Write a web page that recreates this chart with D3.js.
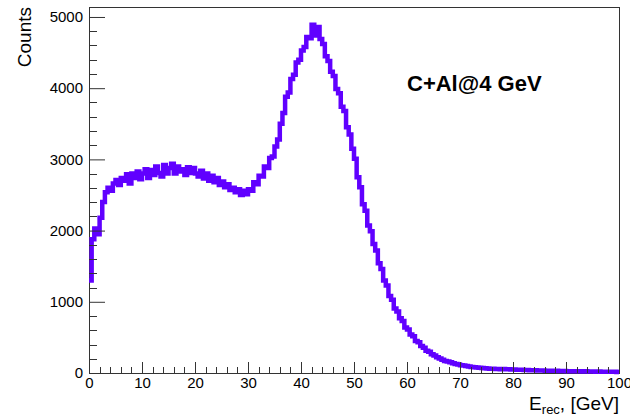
<!DOCTYPE html>
<html lang="en">
<head>
<meta charset="UTF-8">
<title>C+Al@4 GeV</title>
<script src="https://cdn.jsdelivr.net/npm/d3@7/dist/d3.min.js"></script>
<style>
  body { margin: 0; background: #fff; }
  svg { display: block; font-family: "Liberation Sans", Arial, sans-serif; }
</style>
</head>
<body>
<div id="chart"></div>
<script>
    // histogram: 200 bins of 0.5 GeV from 0 to 100
    const xRange = [0, 100]
    const binWidth = 0.5
    const counts = [
        1300, 1880, 2030, 1950, 2180, 2400, 2540, 2600, 2560, 2660,
        2710, 2640, 2740, 2700, 2790, 2660, 2800, 2740, 2830, 2720,
        2800, 2860, 2740, 2850, 2780, 2900, 2810, 2760, 2920, 2800,
        2880, 2940, 2800, 2900, 2830, 2860, 2780, 2890, 2810, 2880,
        2800, 2760, 2840, 2730, 2800, 2700, 2770, 2680, 2740, 2640,
        2690, 2610, 2650, 2570, 2600, 2540, 2580, 2500, 2560, 2510,
        2580, 2560, 2680, 2650, 2770, 2760, 2900, 2880, 3020, 3040,
        3180, 3280, 3500, 3650, 3880, 3940, 4130, 4190, 4360, 4400,
        4530, 4580, 4720, 4700, 4890, 4740, 4860, 4690, 4620, 4450,
        4380, 4230, 4170, 3990, 3930, 3740, 3680, 3450, 3350, 3150,
        3010, 2750, 2610, 2370, 2280, 2070, 1990, 1810, 1720, 1540,
        1460, 1300, 1230, 1080, 1030, 905, 865, 770, 730, 640,
        610, 540, 515, 450, 432, 378, 356, 314, 300, 265,
        245, 222, 205, 185, 170, 160, 150, 138, 128, 118,
        110, 104, 98, 92, 86, 82, 77, 73, 70, 66,
        63, 60, 61, 57, 56, 54, 55, 51, 52, 49,
        48, 47, 44, 45, 42, 41, 40, 38, 39, 36,
        35, 34, 33, 33, 31, 30, 31, 28, 27, 28,
        26, 25, 26, 24, 23, 24, 22, 23, 21, 21,
        20, 19, 20, 18, 18, 17, 18, 16, 16, 15
    ]
    const xTicks = [0, 10, 20, 30, 40, 50, 60, 70, 80, 90, 100]
    const yTicks = [0, 1000, 2000, 3000, 4000, 5000]
    const yMax = 5140
    const label = 'C+Al@4 GeV'

    const width = 630
    const height = 419
    const frame = { left: 89, right: 619, top: 7, bottom: 373 }
    const color = '#6000ff'

    const svg = d3.select('#chart')
        .append('svg')
        .attr('width', width)
        .attr('height', height)

    const xScale = d3.scaleLinear().domain(xRange).range([frame.left, frame.right])
    const yScale = d3.scaleLinear().domain([0, yMax]).range([frame.bottom, frame.top])

    // frame
    svg.append('rect')
        .attr('x', frame.left + 0.5)
        .attr('y', frame.top + 0.5)
        .attr('width', frame.right - frame.left)
        .attr('height', frame.bottom - frame.top)
        .attr('fill', 'none')
        .attr('stroke', '#333')
        .attr('stroke-width', 1)

    // histogram outline
    const steps = []
    counts.forEach((c, i) => {
        const lo = xRange[0] + i * binWidth
        steps.push([lo, c], [lo + binWidth, c])
    })
    const line = d3.line()
        .x(d => xScale(d[0]))
        .y(d => yScale(d[1]))
    svg.append('path')
        .datum(steps)
        .attr('d', line)
        .attr('fill', 'none')
        .attr('stroke', color)
        .attr('stroke-width', 4.5)

    // x axis
    const xAxis = d3.axisBottom(xScale)
        .tickValues(xTicks)
        .tickSizeInner(-11)
        .tickSizeOuter(0)
        .tickPadding(4)
        .tickFormat(d3.format('d'))
    const gx = svg.append('g')
        .attr('transform', `translate(0, ${frame.bottom})`)
        .call(xAxis)
    gx.select('.domain').remove()
    gx.selectAll('.tick line').attr('stroke', '#333')
    gx.selectAll('.tick text').attr('font-size', 15).attr('fill', '#000')
        .attr('font-family', '"Liberation Sans", Arial, sans-serif')

    const xMinor = d3.range(0, 101, 2).filter(v => v % 10 !== 0)
    svg.append('g').selectAll('line')
        .data(xMinor)
        .join('line')
        .attr('x1', d => Math.round(xScale(d)) + 0.5)
        .attr('x2', d => Math.round(xScale(d)) + 0.5)
        .attr('y1', frame.bottom)
        .attr('y2', frame.bottom - 6)
        .attr('stroke', '#333')

    // y axis
    const yAxis = d3.axisLeft(yScale)
        .tickValues(yTicks)
        .tickSizeInner(-16)
        .tickSizeOuter(0)
        .tickPadding(6)
        .tickFormat(d3.format('d'))
    const gy = svg.append('g')
        .attr('transform', `translate(${frame.left}, 0)`)
        .call(yAxis)
    gy.select('.domain').remove()
    gy.selectAll('.tick line').attr('stroke', '#333')
    gy.selectAll('.tick text').attr('font-size', 15).attr('fill', '#000')
        .attr('font-family', '"Liberation Sans", Arial, sans-serif')

    const yMinor = d3.range(0, yMax, 200).filter(v => v % 1000 !== 0)
    svg.append('g').selectAll('line')
        .data(yMinor)
        .join('line')
        .attr('x1', frame.left)
        .attr('x2', frame.left + 8)
        .attr('y1', d => Math.round(yScale(d)) + 0.5)
        .attr('y2', d => Math.round(yScale(d)) + 0.5)
        .attr('stroke', '#333')

    // axis titles
    svg.append('text')
        .attr('transform', `translate(31, ${frame.top}) rotate(-90)`)
        .attr('text-anchor', 'end')
        .attr('font-size', 19)
        .text('Counts')

    const xt = svg.append('text')
        .attr('x', frame.right)
        .attr('y', 410)
        .attr('text-anchor', 'end')
        .attr('font-size', 19)
    xt.append('tspan').text('E')
    xt.append('tspan').attr('font-size', 13).attr('dy', 4).text('rec')
    xt.append('tspan').attr('dy', -4).text(', [GeV]')

    // label
    svg.append('text')
        .attr('x', 407)
        .attr('y', 91)
        .attr('font-size', 22)
        .attr('font-weight', 'bold')
        .text(label)
</script>
</body>
</html>
